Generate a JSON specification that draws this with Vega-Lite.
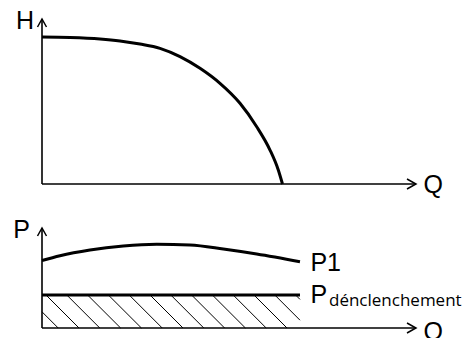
{
  "$schema": "https://vega.github.io/schema/vega-lite/v6.json",
  "width": 374,
  "height": 309,
  "autosize": {"type": "none"},
  "padding": {"left": 42, "top": 19, "right": 52, "bottom": 10},
  "background": "white",
  "config": {"view": {"stroke": null}},
  "resolve": {"scale": {"y": "independent"}},
  "layer": [
    {
      "layer": [
        {
          "data": {"values": [
            {"Q": 0, "H": 89.1}, {"Q": 7.49, "H": 88.8}, {"Q": 15.51, "H": 87.9}, {"Q": 20.86, "H": 86.7},
            {"Q": 26.2, "H": 84.8}, {"Q": 31.55, "H": 82.2}, {"Q": 36.9, "H": 77.2}, {"Q": 42.25, "H": 70.1},
            {"Q": 47.59, "H": 61.0}, {"Q": 52.94, "H": 48.9}, {"Q": 57.41, "H": 34.7}, {"Q": 60.96, "H": 20.6},
            {"Q": 63.18, "H": 8.5}, {"Q": 64.3, "H": 0}
          ]},
          "mark": {"type": "line", "interpolate": "monotone", "stroke": "black", "strokeWidth": 3},
          "encoding": {
            "x": {"field": "Q", "type": "quantitative", "scale": {"domain": [0, 100], "nice": false}, "axis": null},
            "y": {"field": "H", "type": "quantitative", "scale": {"domain": [0, 100], "range": [165, 0], "nice": false}, "axis": null}
          }
        },
        {
          "data": {"values": [
            {"Q": 0, "H": 0, "Q2": 0, "H2": 100},
            {"Q": 0, "H": 0, "Q2": 100, "H2": 0}
          ]},
          "mark": {"type": "rule", "stroke": "black", "strokeWidth": 1.6},
          "encoding": {
            "x": {"field": "Q", "type": "quantitative", "scale": {"domain": [0, 100], "nice": false}, "axis": null},
            "y": {"field": "H", "type": "quantitative", "scale": {"domain": [0, 100], "range": [165, 0], "nice": false}, "axis": null},
            "x2": {"field": "Q2"},
            "y2": {"field": "H2"}
          }
        },
        {
          "data": {"values": [
            {"Q": 0, "H": 100, "dir": "up"},
            {"Q": 100, "H": 0, "dir": "right"}
          ]},
          "mark": {"type": "point", "filled": false, "stroke": "black", "strokeWidth": 1.5, "opacity": 1, "size": 400},
          "encoding": {
            "x": {"field": "Q", "type": "quantitative", "scale": {"domain": [0, 100], "nice": false}, "axis": null},
            "y": {"field": "H", "type": "quantitative", "scale": {"domain": [0, 100], "range": [165, 0], "nice": false}, "axis": null},
            "shape": {"field": "dir", "type": "nominal", "scale": {"domain": ["up", "right"], "range": ["M-0.45,0.8L0,0L0.45,0.8", "M-0.9,-0.5L0,0L-0.9,0.5"]}, "legend": null}
          }
        },
        {
          "data": {"values": [{"Q": 0, "H": 100, "t": "H"}]},
          "mark": {"type": "text", "align": "right", "baseline": "alphabetic", "dx": -8, "dy": 10.3, "font": "Liberation Sans", "fontSize": 25, "color": "black"},
          "encoding": {
            "x": {"field": "Q", "type": "quantitative", "scale": {"domain": [0, 100], "nice": false}, "axis": null},
            "y": {"field": "H", "type": "quantitative", "scale": {"domain": [0, 100], "range": [165, 0], "nice": false}, "axis": null},
            "text": {"field": "t"}
          }
        },
        {
          "data": {"values": [{"Q": 100, "H": 0, "t": "Q"}]},
          "mark": {"type": "text", "align": "left", "baseline": "alphabetic", "dx": 7.5, "dy": 8.5, "font": "Liberation Sans", "fontSize": 25, "color": "black"},
          "encoding": {
            "x": {"field": "Q", "type": "quantitative", "scale": {"domain": [0, 100], "nice": false}, "axis": null},
            "y": {"field": "H", "type": "quantitative", "scale": {"domain": [0, 100], "range": [165, 0], "nice": false}, "axis": null},
            "text": {"field": "t"}
          }
        }
      ]
    },
    {
      "layer": [
        {
          "data": {"values": [
            {"Q": 0, "P": 16.2, "Q2": 4.33, "P2": 0},
            {"Q": 1.07, "P": 33, "Q2": 9.89, "P2": 0},
            {"Q": 6.63, "P": 33, "Q2": 15.45, "P2": 0},
            {"Q": 12.19, "P": 33, "Q2": 21.02, "P2": 0},
            {"Q": 17.75, "P": 33, "Q2": 26.58, "P2": 0},
            {"Q": 23.32, "P": 33, "Q2": 32.14, "P2": 0},
            {"Q": 28.88, "P": 33, "Q2": 37.7, "P2": 0},
            {"Q": 34.44, "P": 33, "Q2": 43.26, "P2": 0},
            {"Q": 40.0, "P": 33, "Q2": 48.82, "P2": 0},
            {"Q": 45.56, "P": 33, "Q2": 54.39, "P2": 0},
            {"Q": 51.12, "P": 33, "Q2": 59.95, "P2": 0},
            {"Q": 56.68, "P": 33, "Q2": 65.51, "P2": 0},
            {"Q": 62.25, "P": 33, "Q2": 68.98, "P2": 7.8},
            {"Q": 67.81, "P": 33, "Q2": 68.98, "P2": 28.6}
          ]},
          "mark": {"type": "rule", "stroke": "black", "strokeWidth": 1},
          "encoding": {
            "x": {"field": "Q", "type": "quantitative", "scale": {"domain": [0, 100], "nice": false}, "axis": null},
            "y": {"field": "P", "type": "quantitative", "scale": {"domain": [0, 100], "range": [309, 209], "nice": false}, "axis": null},
            "x2": {"field": "Q2"},
            "y2": {"field": "P2"}
          }
        },
        {
          "data": {"values": [
            {"Q": 0, "P": 67.5}, {"Q": 4.81, "P": 72.3}, {"Q": 12.83, "P": 78}, {"Q": 21.74, "P": 82},
            {"Q": 30.67, "P": 83.7}, {"Q": 39.57, "P": 83}, {"Q": 48.48, "P": 79}, {"Q": 57.41, "P": 74},
            {"Q": 68.98, "P": 66.3}
          ]},
          "mark": {"type": "line", "interpolate": "monotone", "stroke": "black", "strokeWidth": 3},
          "encoding": {
            "x": {"field": "Q", "type": "quantitative", "scale": {"domain": [0, 100], "nice": false}, "axis": null},
            "y": {"field": "P", "type": "quantitative", "scale": {"domain": [0, 100], "range": [309, 209], "nice": false}, "axis": null}
          }
        },
        {
          "data": {"values": [{"Q": 0, "P": 33}, {"Q": 68.98, "P": 33}]},
          "mark": {"type": "line", "stroke": "black", "strokeWidth": 3},
          "encoding": {
            "x": {"field": "Q", "type": "quantitative", "scale": {"domain": [0, 100], "nice": false}, "axis": null},
            "y": {"field": "P", "type": "quantitative", "scale": {"domain": [0, 100], "range": [309, 209], "nice": false}, "axis": null}
          }
        },
        {
          "data": {"values": [
            {"Q": 0, "P": 0, "Q2": 0, "P2": 100},
            {"Q": 0, "P": 0, "Q2": 100, "P2": 0}
          ]},
          "mark": {"type": "rule", "stroke": "black", "strokeWidth": 1.6},
          "encoding": {
            "x": {"field": "Q", "type": "quantitative", "scale": {"domain": [0, 100], "nice": false}, "axis": null},
            "y": {"field": "P", "type": "quantitative", "scale": {"domain": [0, 100], "range": [309, 209], "nice": false}, "axis": null},
            "x2": {"field": "Q2"},
            "y2": {"field": "P2"}
          }
        },
        {
          "data": {"values": [
            {"Q": 0, "P": 100, "dir": "up"},
            {"Q": 100, "P": 0, "dir": "right"}
          ]},
          "mark": {"type": "point", "filled": false, "stroke": "black", "strokeWidth": 1.5, "opacity": 1, "size": 400},
          "encoding": {
            "x": {"field": "Q", "type": "quantitative", "scale": {"domain": [0, 100], "nice": false}, "axis": null},
            "y": {"field": "P", "type": "quantitative", "scale": {"domain": [0, 100], "range": [309, 209], "nice": false}, "axis": null},
            "shape": {"field": "dir", "type": "nominal", "scale": {"domain": ["up", "right"], "range": ["M-0.45,0.9L0,0L0.45,0.9", "M-0.9,-0.5L0,0L-0.9,0.5"]}, "legend": null}
          }
        },
        {
          "data": {"values": [{"Q": 0, "P": 100, "t": "P"}]},
          "mark": {"type": "text", "align": "right", "baseline": "alphabetic", "dx": -12, "dy": 9.7, "font": "Liberation Sans", "fontSize": 25, "color": "black"},
          "encoding": {
            "x": {"field": "Q", "type": "quantitative", "scale": {"domain": [0, 100], "nice": false}, "axis": null},
            "y": {"field": "P", "type": "quantitative", "scale": {"domain": [0, 100], "range": [309, 209], "nice": false}, "axis": null},
            "text": {"field": "t"}
          }
        },
        {
          "data": {"values": [{"Q": 100, "P": 0, "t": "Q"}]},
          "mark": {"type": "text", "align": "left", "baseline": "alphabetic", "dx": 7.5, "dy": 11.5, "font": "Liberation Sans", "fontSize": 25, "color": "black"},
          "encoding": {
            "x": {"field": "Q", "type": "quantitative", "scale": {"domain": [0, 100], "nice": false}, "axis": null},
            "y": {"field": "P", "type": "quantitative", "scale": {"domain": [0, 100], "range": [309, 209], "nice": false}, "axis": null},
            "text": {"field": "t"}
          }
        },
        {
          "data": {"values": [{"Q": 68.98, "P": 66.3, "t": "P1"}]},
          "mark": {"type": "text", "align": "left", "baseline": "alphabetic", "dx": 10.4, "dy": 9.3, "font": "Liberation Sans", "fontSize": 25, "color": "black"},
          "encoding": {
            "x": {"field": "Q", "type": "quantitative", "scale": {"domain": [0, 100], "nice": false}, "axis": null},
            "y": {"field": "P", "type": "quantitative", "scale": {"domain": [0, 100], "range": [309, 209], "nice": false}, "axis": null},
            "text": {"field": "t"}
          }
        },
        {
          "data": {"values": [{"Q": 68.98, "P": 33, "t": "P"}]},
          "mark": {"type": "text", "align": "left", "baseline": "alphabetic", "dx": 10.4, "dy": 7.7, "font": "Liberation Sans", "fontSize": 25, "color": "black"},
          "encoding": {
            "x": {"field": "Q", "type": "quantitative", "scale": {"domain": [0, 100], "nice": false}, "axis": null},
            "y": {"field": "P", "type": "quantitative", "scale": {"domain": [0, 100], "range": [309, 209], "nice": false}, "axis": null},
            "text": {"field": "t"}
          }
        },
        {
          "data": {"values": [{"Q": 68.98, "P": 33, "t": "dénclenchement"}]},
          "mark": {"type": "text", "align": "left", "baseline": "alphabetic", "dx": 29, "dy": 10.7, "font": "Open Sans", "fontSize": 17, "color": "black"},
          "encoding": {
            "x": {"field": "Q", "type": "quantitative", "scale": {"domain": [0, 100], "nice": false}, "axis": null},
            "y": {"field": "P", "type": "quantitative", "scale": {"domain": [0, 100], "range": [309, 209], "nice": false}, "axis": null},
            "text": {"field": "t"}
          }
        }
      ]
    }
  ]
}
